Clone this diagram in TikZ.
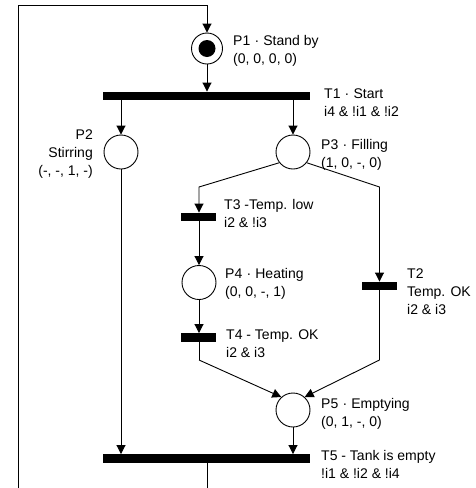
\documentclass[tikz,border=0pt]{standalone}
\usepackage{fontspec}
\setmainfont{Liberation Sans}
\usetikzlibrary{arrows.meta}
\newcommand{\md}{\hspace{0.3em}·\hspace{0.3em}}
\begin{document}
\begin{tikzpicture}[x=1pt,y=-1pt,
  place/.style={circle,draw=black,line width=0.9pt,minimum size=34pt,inner sep=0pt},
  bigbar/.style={rectangle,fill=black,draw=none,minimum width=207pt,minimum height=8.5pt,inner sep=0pt},
  smallbar/.style={rectangle,fill=black,draw=none,minimum width=35pt,minimum height=8.5pt,inner sep=0pt},
  lbl/.style={inner sep=0pt,anchor=base west,align=left,font=\fontsize{14}{18}\selectfont},
  lblr/.style={inner sep=0pt,anchor=base east,align=right,font=\fontsize{14}{18}\selectfont},
  arc/.style={line width=0.9pt,draw=black},
  arr/.style={arc,-{Triangle[length=9pt,width=9pt]}}]
\useasboundingbox (0,0) rectangle (475,488);
\clip (0,0) rectangle (475,488);
% nodes
\node[place,minimum size=31pt] (P1) at (207,48.5) {};
\fill[black] (P1) circle (8.5pt);
\node[bigbar] (T1) at (206.5,96) {};
\node[place] (P2) at (121,152) {};
\node[place] (P3) at (293,152) {};
\node[smallbar] (T3) at (198.5,217) {};
\node[place] (P4) at (199,282.5) {};
\node[smallbar] (T2) at (379.5,286) {};
\node[smallbar] (T4) at (198.5,337.5) {};
\node[place] (P5) at (293,410) {};
\node[bigbar] (T5) at (206.5,458.5) {};
% coordinates
\coordinate (c1) at (199,187);
\coordinate (c2) at (379.5,187);
\coordinate (c3) at (199,360);
\coordinate (c4) at (379.5,360);
\coordinate (c5) at (207,520);
\coordinate (c6) at (18,520);
\coordinate (c7) at (18,5);
\coordinate (c8) at (207,5);
% connectors
\draw[arr] (c8) -- (P1.north);
\draw[arc] (T5.south -| c5) -- (c5) -- (c6) -- (c7) -- (c8);
\draw[arr] (P1.south) -- (P1.south |- T1.north);
\draw[arr] (P2 |- T1.south) -- (P2.north);
\draw[arr] (P3 |- T1.south) -- (P3.north);
\draw[arr] (P3.218) -- (c1) -- (T3.north -| c1);
\draw[arr] (P3.-38) -- (c2) -- (T2.north);
\draw[arr] (T3.south -| P4.north) -- (P4.north);
\draw[arr] (P4.south) -- (P4.south |- T4.north);
\draw[arc] (T4.south -| c3) -- (c3);
\draw[arr] (c3) -- (P5.132);
\draw[arc] (T2.south) -- (c4);
\draw[arr] (c4) -- (P5.48);
\draw[arr] (P2.south) -- (P2.south |- T5.north);
\draw[arr] (P5.south) -- (P5.south |- T5.north);
% labels (anchor = baseline of last line)
\node[lbl] (L1) at (233,63.5) {P1\md Stand by\\(0, 0, 0, 0)};
\node[lbl] (LT1) at (324,116) {T1\md Start\\i4 \& !i1 \& !i2};
\node[lblr] (L2) at (93,175) {P2\\Stirring\\(-, -, 1, -)};
\node[lbl] (L3) at (321,167) {P3\md Filling\\(1, 0, -, 0)};
\node[lbl] (LT3) at (224,227) {T3 -Temp. low\\i2 \& !i3};
\node[lbl] (L4) at (225,296) {P4\md Heating\\(0, 0, -, 1)};
\node[lbl] (LT2) at (407,314) {T2\\Temp. OK\\i2 \& i3};
\node[lbl] (LT4) at (226,357) {T4 - Temp. OK\\i2 \& i3};
\node[lbl] (L5) at (321,426) {P5\md Emptying\\(0, 1, -, 0)};
\node[lbl] (LT5) at (321,478) {T5 - Tank is empty\\!i1 \& !i2 \& !i4};
\end{tikzpicture}
\end{document}
